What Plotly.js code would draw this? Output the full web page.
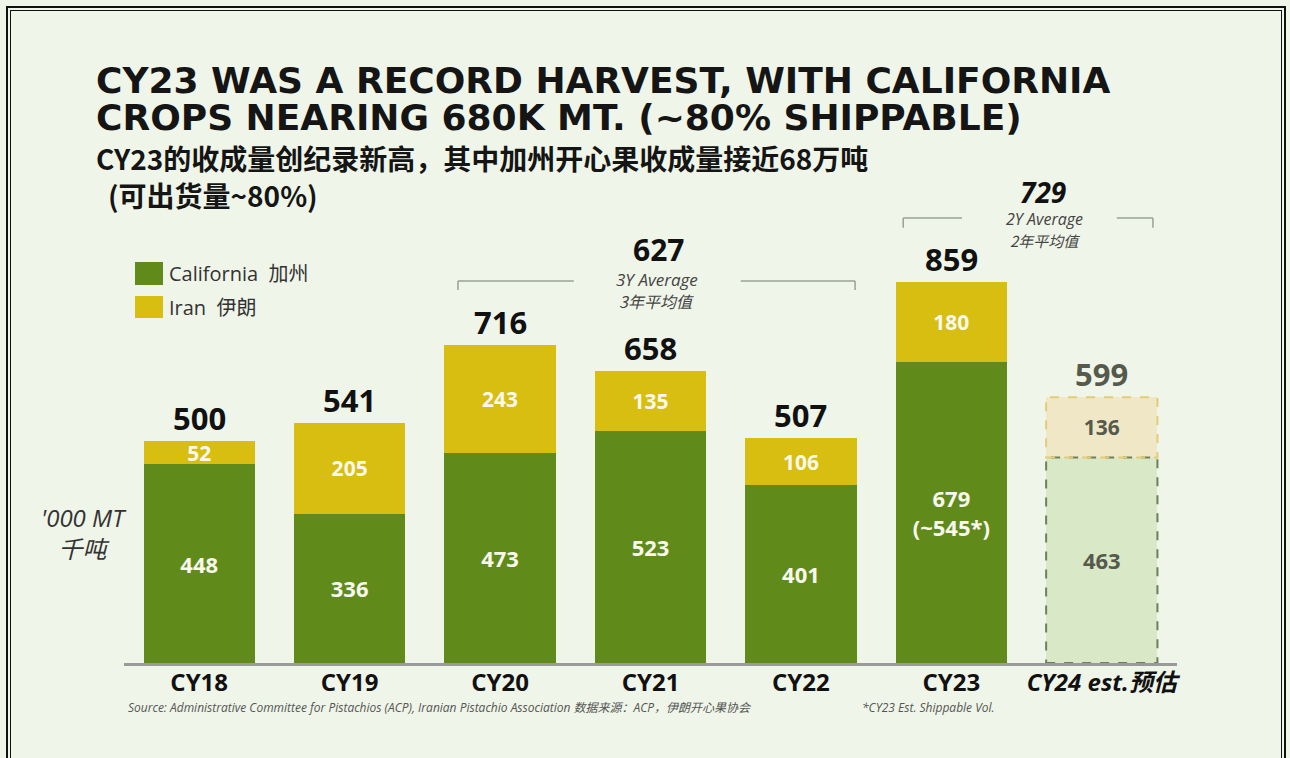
<!DOCTYPE html>
<html><head><meta charset="utf-8">
<script src="https://cdn.plot.ly/plotly-3.0.1.min.js"></script>
<style>
html,body{margin:0;padding:0;background:#eff5e8;}
#chart{width:1290px;height:758px;}
.frame{position:absolute;pointer-events:none;border-style:solid;border-color:#111;border-bottom:none;}
</style></head>
<body>
<div id="chart"></div>
<div class="frame" style="left:6px;top:6px;width:1276px;height:760px;border-width:2px 2px 0 2px;"></div>
<div class="frame" style="left:10px;top:10px;width:1270px;height:760px;border-width:1px 1px 0 1px;"></div>
<script>
const categories = ["CY18","CY19","CY20","CY21","CY22","CY23","CY24 est.预估"];
const tickLabels = ["CY18","CY19","CY20","CY21","CY22","CY23","<i>CY24 est.预估</i>"];
const california = [448, 336, 473, 523, 401, 679, 463];
const iran = [52, 205, 243, 135, 106, 180, 136];
const totals = [500, 541, 716, 658, 507, 859, 599];
const californiaLabels = ["448","336","473","523","401","679<br>(~545*)","463"];
const iranLabels = ["52","205","243","135","106","180","136"];
const seriesNames = ["California  加州", "Iran  伊朗"];
const avg3 = {value: 627, from: 2, to: 4, line1: "3Y Average", line2: "3年平均值"};
const avg2 = {value: 729, from: 5, to: 6, line1: "2Y Average", line2: "2年平均值"};

const GREEN = "#608b1b", YELLOW = "#d9be12";
const estIdx = categories.length - 1;
const BW = 0.74;
const xs = categories.map((c,i)=>i);

const calColors = xs.map(i => i===estIdx ? "#d9e8c6" : GREEN);
const iranColors = xs.map(i => i===estIdx ? "#efe7c6" : YELLOW);
const calText = xs.map(i => i===estIdx ? "#555a4c" : "#f8f8ee");
const iranText = xs.map(i => i===estIdx ? "#555a4c" : "#f8f8ee");

const font = "Open Sans, Noto Sans CJK SC, sans-serif";
const cjk = "Noto Sans CJK SC, Open Sans, sans-serif";

const traces = [
  {type:"bar", name:seriesNames[0], x:xs, y:california, width:BW,
   marker:{color:calColors}, text:californiaLabels, textposition:"inside", textangle:0,
   insidetextanchor:"middle", constraintext:"none",
   textfont:{family:font, size:22, color:calText, weight:"bold"}, hoverinfo:"y", showlegend:false},
  {type:"bar", name:seriesNames[1], x:xs, y:iran, width:BW,
   marker:{color:iranColors}, text:iranLabels, textposition:"inside", textangle:0,
   insidetextanchor:"middle", constraintext:"none",
   textfont:{family:font, size:21, color:iranText, weight:"bold"}, hoverinfo:"y", showlegend:false}
];

const annotations = [];
totals.forEach((t,i)=>{
  annotations.push({x:i, y:t, yanchor:"bottom", yshift:0, text:"<b>"+t+"</b>", showarrow:false,
    font:{family:font, size:31, color: i===estIdx ? "#555a4c" : "#111"}});
});
const shapes = [];
const e = estIdx;
shapes.push({type:"rect", xref:"x", yref:"y", x0:e-BW/2, x1:e+BW/2, y0:0, y1:california[e],
  line:{color:"#6f7f5a", width:2, dash:"dash"}, fillcolor:"rgba(0,0,0,0)"});
shapes.push({type:"rect", xref:"x", yref:"y", x0:e-BW/2, x1:e+BW/2, y0:california[e], y1:totals[e],
  line:{color:"#e3cc78", width:2, dash:"dash"}, fillcolor:"rgba(0,0,0,0)"});

function bracket(y, x0, x1, gapL, gapR, tickH){
  const c = "#9aa096";
  shapes.push({type:"line", xref:"x", yref:"y", x0:x0, x1:gapL, y0:y, y1:y, line:{color:c,width:1.5}});
  shapes.push({type:"line", xref:"x", yref:"y", x0:gapR, x1:x1, y0:y, y1:y, line:{color:c,width:1.5}});
  shapes.push({type:"line", xref:"x", yref:"y", x0:x0, x1:x0, y0:y, y1:y-tickH, line:{color:c,width:1.5}});
  shapes.push({type:"line", xref:"x", yref:"y", x0:x1, x1:x1, y0:y, y1:y-tickH, line:{color:c,width:1.5}});
}
// 3Y average
bracket(861, avg3.from-0.28, avg3.to+0.36, 2.49, 3.6, 20);
annotations.push({x:3.056, y:933, yanchor:"middle", text:"<b>"+avg3.value+"</b>",
  showarrow:false, font:{family:font, size:30, color:"#111"}});
annotations.push({x:3.04, y:864, yanchor:"middle", text:"<i>"+avg3.line1+"</i>",
  showarrow:false, font:{family:font, size:17, color:"#444"}});
annotations.push({x:3.04, y:815, yanchor:"middle", text:"<i>"+avg3.line2+"</i>",
  showarrow:false, font:{family:cjk, size:16, color:"#444"}});
// 2Y average
bracket(1003, avg2.from-0.32, avg2.to+0.34, 5.07, 6.1, 22);
annotations.push({x:5.61, y:1062, yanchor:"middle", text:"<b><i>"+avg2.value+"</i></b>",
  showarrow:false, font:{family:font, size:28, color:"#111"}});
annotations.push({x:5.62, y:1000, yanchor:"middle", text:"<i>"+avg2.line1+"</i>",
  showarrow:false, font:{family:font, size:16, color:"#444"}});
annotations.push({x:5.62, y:953, yanchor:"middle", text:"<i>"+avg2.line2+"</i>",
  showarrow:false, font:{family:cjk, size:15, color:"#444"}});

// pixel helper for paper coordinates (plot area: x 124..1177, y 175..663)
const px = p => (p-124)/1053, py = p => (663-p)/488;

// Titles
const titleFont = {family:"DejaVu Sans, Open Sans, sans-serif", size:36, color:"#151515"};
annotations.push({xref:"paper", yref:"paper", x:px(94), y:py(81), xanchor:"left", yanchor:"middle",
  text:"<b>CY23 WAS A RECORD HARVEST, WITH CALIFORNIA</b>", showarrow:false, font:titleFont});
annotations.push({xref:"paper", yref:"paper", x:px(94), y:py(118), xanchor:"left", yanchor:"middle",
  text:"<b>CROPS NEARING 680K MT. (~80% SHIPPABLE)</b>", showarrow:false, font:titleFont});
const subFont = {family:cjk, size:28, color:"#151515"};
annotations.push({xref:"paper", yref:"paper", x:px(94), y:py(158), xanchor:"left", yanchor:"middle",
  text:"<b>CY23的收成量创纪录新高，其中加州开心果收成量接近68万吨</b>", showarrow:false, font:subFont});
annotations.push({xref:"paper", yref:"paper", x:px(106), y:py(195), xanchor:"left", yanchor:"middle",
  text:"<b>(可出货量~80%)</b>", showarrow:false, font:subFont});

// Legend (drawn)
const legendColors = [GREEN, YELLOW];
const legendRows = [[262,285],[296,318]];
seriesNames.forEach((n,k)=>{
  const [t,b] = legendRows[k];
  shapes.push({type:"rect", xref:"paper", yref:"paper", x0:px(135), x1:px(163), y0:py(b), y1:py(t),
    fillcolor:legendColors[k], line:{width:0}});
  annotations.push({xref:"paper", yref:"paper", x:px(167), y:py((t+b)/2), xanchor:"left", yanchor:"middle",
    text:n, showarrow:false, font:{family:font, size:20, color:"#333"}});
});

// Y axis unit
annotations.push({xref:"paper", yref:"paper", x:px(84), y:py(533), xanchor:"center", yanchor:"middle",
  text:"<i>'000 MT<br>千吨</i>", showarrow:false, font:{family:font, size:24, color:"#333"}});
// Source notes
annotations.push({xref:"paper", yref:"paper", x:px(126), y:py(707), xanchor:"left", yanchor:"middle",
  text:"<i>Source: Administrative Committee for Pistachios (ACP), Iranian Pistachio Association 数据来源：ACP，伊朗开心果协会</i>",
  showarrow:false, font:{family:font, size:12, color:"#555"}});
annotations.push({xref:"paper", yref:"paper", x:px(860), y:py(707), xanchor:"left", yanchor:"middle",
  text:"<i>*CY23 Est. Shippable Vol.</i>", showarrow:false, font:{family:font, size:12, color:"#555"}});

const layout = {
  width:1290, height:758,
  paper_bgcolor:"#eff5e8", plot_bgcolor:"#eff5e8",
  margin:{l:124, r:113, t:175, b:95},
  barmode:"stack",
  showlegend:false,
  xaxis:{type:"linear", range:[-0.5, 6.5], tickvals:xs, ticktext:tickLabels, showgrid:false, zeroline:false,
    showline:true, linecolor:"#9a9a9a", linewidth:3, ticks:"", ticklen:0, ticklabelstandoff:-4,
    tickfont:{family:font, size:24, color:"#111", weight:"bold"}},
  yaxis:{range:[0, 1100], visible:false, showgrid:false, zeroline:false},
  annotations:annotations, shapes:shapes,
  font:{family:font}
};
Plotly.newPlot("chart", traces, layout, {displayModeBar:false, staticPlot:true});
</script>
</body></html>
